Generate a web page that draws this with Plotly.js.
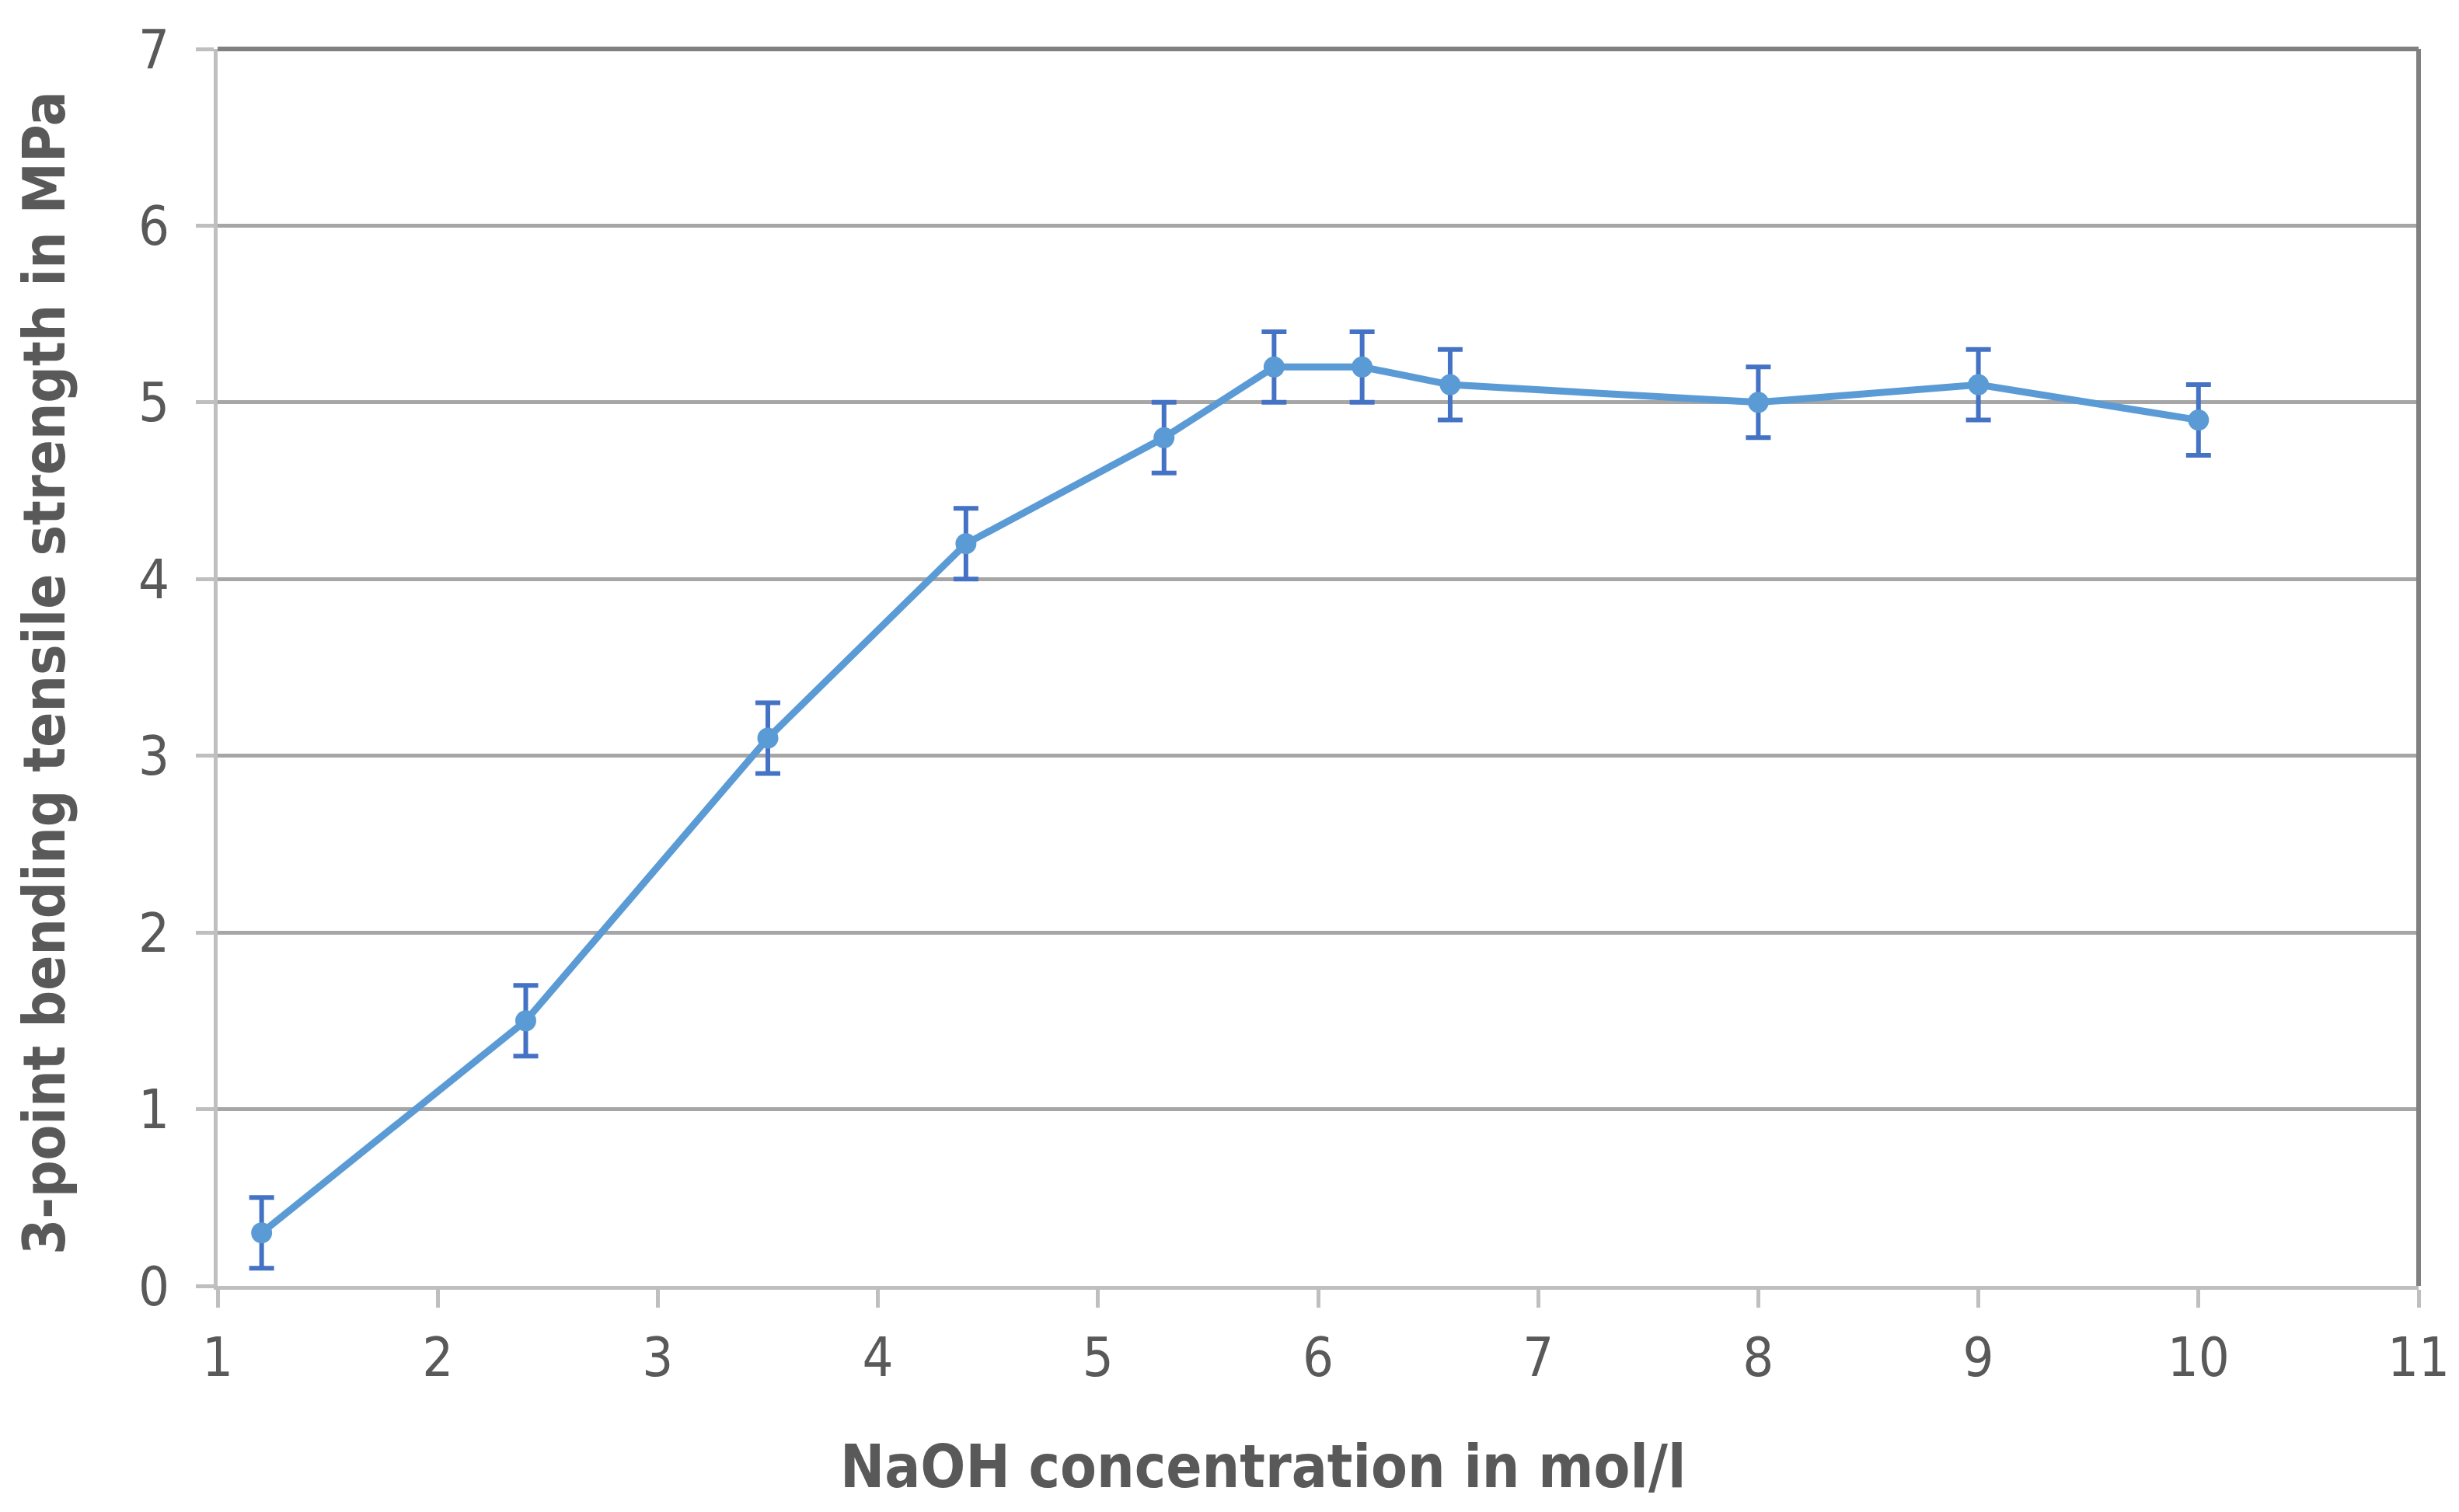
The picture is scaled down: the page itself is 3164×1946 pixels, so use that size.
<!DOCTYPE html>
<html>
<head>
<meta charset="utf-8">
<script src="https://cdn.plot.ly/plotly-3.0.1.min.js"></script>
<style>html,body{margin:0;padding:0;background:#fff;}#chart{width:3164px;height:1946px;}</style>
</head>
<body>
<div id="chart"></div>
<script>
const naohConcentration = [1.2, 2.4, 3.5, 4.4, 5.3, 5.8, 6.2, 6.6, 8, 9, 10];
const tensileStrength = [0.3, 1.5, 3.1, 4.2, 4.8, 5.2, 5.2, 5.1, 5.0, 5.1, 4.9];
const strengthError = [0.2, 0.2, 0.2, 0.2, 0.2, 0.2, 0.2, 0.2, 0.2, 0.2, 0.2];
const xTicks = [1, 2, 3, 4, 5, 6, 7, 8, 9, 10, 11];
const yTicks = [0, 1, 2, 3, 4, 5, 6, 7];
const xTitle = "NaOH concentration in mol/l";
const yTitle = "3-point bending tensile strength in MPa";

const tickFont = {family: "DejaVu Sans Condensed, DejaVu Sans", size: 70, color: "#595959"};
const xTitleFont = {family: "DejaVu Sans Condensed, DejaVu Sans", size: 76, color: "#595959", weight: "bold"};
const yTitleFont = {family: "DejaVu Sans Condensed, DejaVu Sans", size: 74, color: "#595959", weight: "bold"};

const trace = {
  x: naohConcentration,
  y: tensileStrength,
  type: "scatter",
  mode: "lines+markers",
  line: {color: "#5b9bd5", width: 9},
  marker: {color: "#5b9bd5", size: 27},
  error_y: {type: "data", array: strengthError, visible: true, color: "#4472c4", thickness: 6, width: 16},
  hoverinfo: "x+y"
};

const L = 280, R = 3112, T = 63, B = 1655;
const layout = {
  width: 3164, height: 1946,
  margin: {l: L, r: 3164 - R, t: T, b: 1946 - B},
  paper_bgcolor: "#ffffff", plot_bgcolor: "#ffffff",
  showlegend: false,
  xaxis: {
    range: [1, 11], tickvals: xTicks, ticktext: xTicks.map(String),
    showgrid: false, zeroline: false,
    showline: true, linecolor: "#bfbfbf", linewidth: 5,
    ticks: "outside", ticklen: 23, tickwidth: 5, tickcolor: "#bfbfbf",
    tickfont: tickFont, ticklabelstandoff: 4
  },
  yaxis: {
    range: [0, 7], tickvals: yTicks, ticktext: yTicks.map(String),
    showgrid: true, gridcolor: "#a6a6a6", gridwidth: 5, zeroline: false,
    showline: true, linecolor: "#bfbfbf", linewidth: 5,
    ticks: "outside", ticklen: 23, tickwidth: 5, tickcolor: "#bfbfbf",
    tickfont: tickFont, ticklabelstandoff: 20
  },
  shapes: [
    {type: "line", xref: "paper", yref: "paper", x0: 0, x1: 1, y0: 1, y1: 1, line: {color: "#808080", width: 6}},
    {type: "line", xref: "paper", yref: "paper", x0: 1, x1: 1, y0: 0, y1: 1, line: {color: "#808080", width: 6}}
  ],
  annotations: [
    {text: xTitle, xref: "paper", yref: "paper", x: (1625 - L) / (R - L), y: -(1934 - B) / (B - T),
     xanchor: "center", yanchor: "bottom", showarrow: false, font: xTitleFont},
    {text: yTitle, xref: "paper", yref: "paper", x: -(L - 57) / (R - L), y: (B - 866) / (B - T),
     xanchor: "center", yanchor: "middle", textangle: -90, showarrow: false, font: yTitleFont}
  ]
};

Plotly.newPlot("chart", [trace], layout, {displayModeBar: false, staticPlot: true});
</script>
</body>
</html>
